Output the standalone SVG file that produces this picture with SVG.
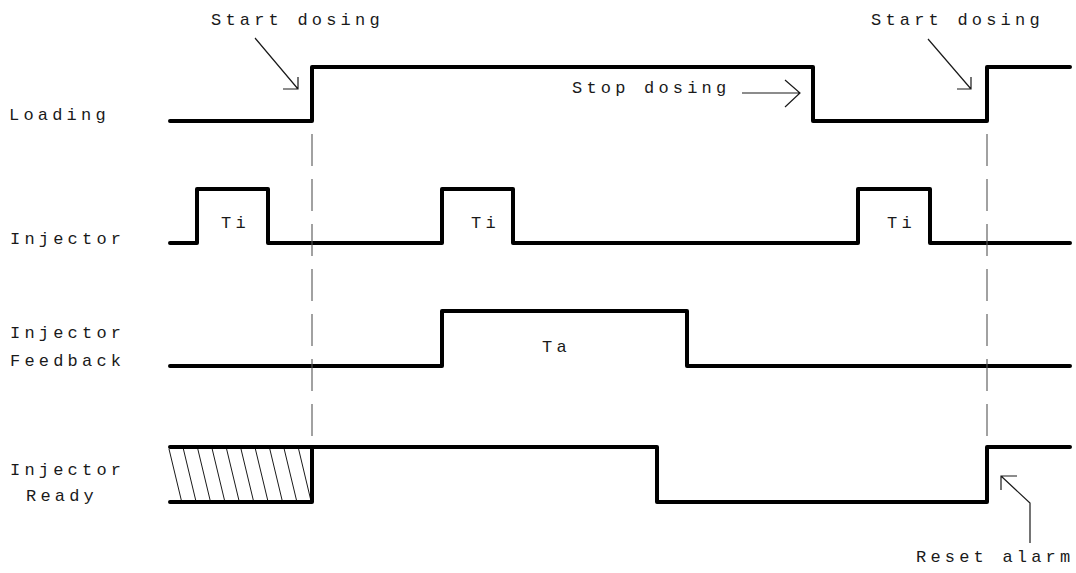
<svg xmlns="http://www.w3.org/2000/svg" width="1076" height="573" viewBox="0 0 1076 573">
  <style>
    .sig { fill: none; stroke: #000; stroke-width: 4; stroke-linejoin: round; stroke-linecap: round; }
    .thin { fill: none; stroke: #1a1a1a; stroke-width: 1.2; }
    .hatch { fill: none; stroke: #1a1a1a; stroke-width: 1; }
    .dash { fill: none; stroke: #555; stroke-width: 1.1; stroke-dasharray: 32 13; }
    .lbl { font-family: "Liberation Mono", "DejaVu Sans Mono", monospace; font-size: 17px; letter-spacing: 4.2px; fill: #1a1a1a; }
  </style>

  <rect width="1076" height="573" fill="#fff"/>

  <!-- Loading signal -->
  <g id="loading">
    <text class="lbl" x="9" y="120">Loading</text>
    <path class="sig" d="M170,121 H312 V67 H813 V121 H987 V67 H1070"/>
  </g>

  <!-- Injector signal with three Ti pulses -->
  <g id="injector">
    <text class="lbl" x="10" y="244">Injector</text>
    <path class="sig" d="M170,243 H197 V189 H268 V243 H442 V189 H513 V243 H858 V189 H930 V243 H1070"/>
    <text class="lbl" x="221" y="228">Ti</text>
    <text class="lbl" x="471" y="228">Ti</text>
    <text class="lbl" x="887" y="228">Ti</text>
  </g>

  <!-- Injector feedback signal -->
  <g id="injector-feedback">
    <text class="lbl" x="10" y="338">Injector</text>
    <text class="lbl" x="10" y="366">Feedback</text>
    <path class="sig" d="M170,366 H442 V311 H687 V366 H1070"/>
    <text class="lbl" x="542" y="352">Ta</text>
  </g>

  <!-- Injector ready signal, undefined state hatched -->
  <g id="injector-ready">
    <text class="lbl" x="10" y="475">Injector</text>
    <text class="lbl" x="26" y="501">Ready</text>
    <path class="hatch" d="M169,449 L181.5,501 M183.4,449 L195.9,501 M197.8,449 L210.3,501 M212.2,449 L224.7,501 M226.6,449 L239.1,501 M241,449 L253.5,501 M255.4,449 L267.9,501 M269.8,449 L282.3,501 M284.2,449 L296.7,501 M298.6,449 L311,501"/>
    <path class="sig" d="M170,502 H312 V447"/>
    <path class="sig" d="M170,447 H657 V502 H987 V447 H1070"/>
  </g>

  <!-- Event markers and annotation arrows -->
  <g id="connectors">
    <path class="dash" d="M312,134 V437"/>
    <path class="dash" d="M987,134 V437"/>

    <g id="start-dosing-1">
      <text class="lbl" x="211" y="25">Start dosing</text>
      <path class="thin" d="M255,38 L298,89 M283,89 H298 V77"/>
    </g>
    <g id="start-dosing-2">
      <text class="lbl" x="871" y="25">Start dosing</text>
      <path class="thin" d="M928,39 L971,89 M957,89 H971 V77"/>
    </g>
    <g id="stop-dosing">
      <text class="lbl" x="572" y="93">Stop dosing</text>
      <path class="thin" d="M742,93 H800 M785,80 L800,93 L785,107"/>
    </g>
    <g id="reset-alarm">
      <text class="lbl" x="916" y="562">Reset alarm</text>
      <path class="thin" d="M1030,543 V503 L1001,476 M1017,476 H1001 V490"/>
    </g>
  </g>
</svg>
